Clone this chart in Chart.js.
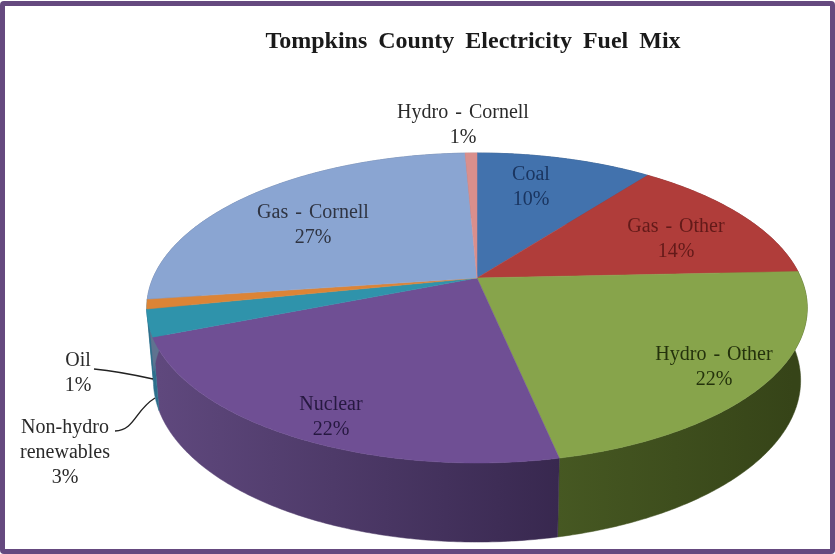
<!DOCTYPE html>
<html>
<head>
<meta charset="utf-8">
<title>Tompkins County Electricity Fuel Mix</title>
<script src="https://cdn.jsdelivr.net/npm/chart.js@4"></script>
<style>
  html, body { margin: 0; padding: 0; background: #fff; }
  #wrap { width: 835px; height: 554px; position: relative; overflow: hidden; }
  #wrap:after { content: ""; position: absolute; left: 0; top: 1px; right: 0; bottom: 0;
    border: 5px solid #65497f; border-radius: 4px; filter: blur(0.7px); }
  canvas { display: block; filter: blur(0.5px); }
</style>
</head>
<body>
<div id="wrap"><canvas id="myChart" width="835" height="554"></canvas></div>
<script>
// datos
const categories = ["Coal", "Gas - Other", "Hydro - Other", "Nuclear", "Non-hydro renewables", "Oil", "Gas - Cornell", "Hydro - Cornell"];
const shares = [10.4, 13.9, 22.4, 22.3, 2.8, 1.0, 26.5, 0.7];

// colores de cada tajada
const topColors = ["#4272ad", "#b03d3a", "#87a44b", "#6f4f94", "#2f93ab", "#dc8436", "#8aa5d2", "#d98f8c"];
const wallLeft = ["#2c4d76", "#76292a", "#465822", "#5f487d", "#2c6f8c", "#2c6f8c", "#5f7390", "#94625f"];
const wallRight = ["#2c4d76", "#76292a", "#364418", "#38284f", "#2c6f8c", "#2c6f8c", "#5f7390", "#94625f"];
const labelColors = ["#1a3560", "#631a19", "#24320c", "#261840", "#2a2a2a", "#2a2a2a", "#2f3442", "#2a2a2a"];

// donde va cada etiqueta (centro del bloque de texto)
const labelLines = [["Coal"], ["Gas - Other"], ["Hydro - Other"], ["Nuclear"], ["Non-hydro", "renewables"], ["Oil"], ["Gas - Cornell"], ["Hydro - Cornell"]];
const labelX = [531, 676, 714, 331, 65, 78, 313, 463];
const labelY = [175, 227, 355, 405, 428, 361, 213, 113];

// perspectiva del disco 3D
const apexX = 477, apexY = 278, radiusX = 324;
const persp = -0.1935, spreadY = 95.4, depth = 71, shrink = 0.98;

function project(angle, lower) {
  const u = Math.cos(angle), v = Math.sin(angle);
  const w = 1 + persp * v;
  const x = radiusX * u / w;
  const y = (apexY + spreadY * v) / w;
  return lower ? [apexX + x * shrink, y + depth / Math.sqrt(w)] : [apexX + x, y];
}

function traceArc(ctx, a0, a1, lower, first) {
  const steps = Math.max(2, Math.ceil(Math.abs(a1 - a0) / 0.01));
  for (let i = 0; i <= steps; i++) {
    const p = project(a0 + (a1 - a0) * i / steps, lower);
    if (i === 0 && first) ctx.moveTo(p[0], p[1]);
    else ctx.lineTo(p[0], p[1]);
  }
}

const pie3d = {
  id: "pie3d",
  beforeDraw(chart) {
    chart.ctx.wordSpacing = "5px"; // el titulo tiene espacios anchos
  },
  beforeDatasetsDraw(chart) {
    const ctx = chart.ctx;
    const arcs = chart.getDatasetMeta(0).data;
    ctx.save();
    // paredes
    arcs.forEach((arc, i) => {
      const a0 = arc.startAngle, a1 = arc.endAngle;
      const left = project(a1, true)[0], right = project(a0, true)[0];
      const grad = ctx.createLinearGradient(Math.min(left, right), 0, Math.max(left, right) + 1, 0);
      grad.addColorStop(0, wallLeft[i]);
      grad.addColorStop(1, wallRight[i]);
      ctx.beginPath();
      traceArc(ctx, a0, a1, false, true);
      traceArc(ctx, a1, a0, true, false);
      ctx.closePath();
      ctx.fillStyle = grad;
      ctx.strokeStyle = grad;
      ctx.lineWidth = 0.5;
      ctx.fill();
      ctx.stroke();
    });
    // cara superior
    arcs.forEach((arc, i) => {
      ctx.beginPath();
      ctx.moveTo(apexX, apexY);
      traceArc(ctx, arc.startAngle, arc.endAngle, false, false);
      ctx.closePath();
      ctx.fillStyle = topColors[i];
      ctx.strokeStyle = topColors[i];
      ctx.lineWidth = 0.5;
      ctx.fill();
      ctx.stroke();
    });
    ctx.restore();
    return false;
  },
  afterDraw(chart) {
    const ctx = chart.ctx;
    ctx.save();
    // lineas guia
    ctx.strokeStyle = "#222222";
    ctx.lineWidth = 1.4;
    ctx.beginPath();
    ctx.moveTo(94, 369);
    ctx.bezierCurveTo(115, 371, 135, 375, 153, 379);
    ctx.moveTo(115, 431);
    ctx.bezierCurveTo(135, 430, 135, 410, 155, 398);
    ctx.stroke();
    // etiquetas
    ctx.font = "20px 'Liberation Serif'";
    ctx.wordSpacing = "2px";
    ctx.textAlign = "center";
    ctx.textBaseline = "middle";
    labelLines.forEach((lines, i) => {
      ctx.fillStyle = labelColors[i];
      const text = lines.concat(Math.round(shares[i]) + "%");
      text.forEach((line, k) => ctx.fillText(line, labelX[i], labelY[i] + k * 25));
    });
    ctx.restore();
  }
};

new Chart(document.getElementById("myChart"), {
  type: "pie",
  data: {
    labels: categories,
    datasets: [{ data: shares, backgroundColor: topColors, borderWidth: 0 }]
  },
  options: {
    responsive: false,
    animation: false,
    events: [],
    layout: { padding: { left: 111 } },
    plugins: {
      legend: { display: false },
      tooltip: { enabled: false },
      title: {
        display: true,
        text: "Tompkins County Electricity Fuel Mix",
        color: "#1a1a1a",
        font: { family: "'Liberation Serif'", size: 24, weight: "bold" },
        padding: { top: 27, bottom: 10 }
      }
    }
  },
  plugins: [pie3d]
});
</script>
</body>
</html>
